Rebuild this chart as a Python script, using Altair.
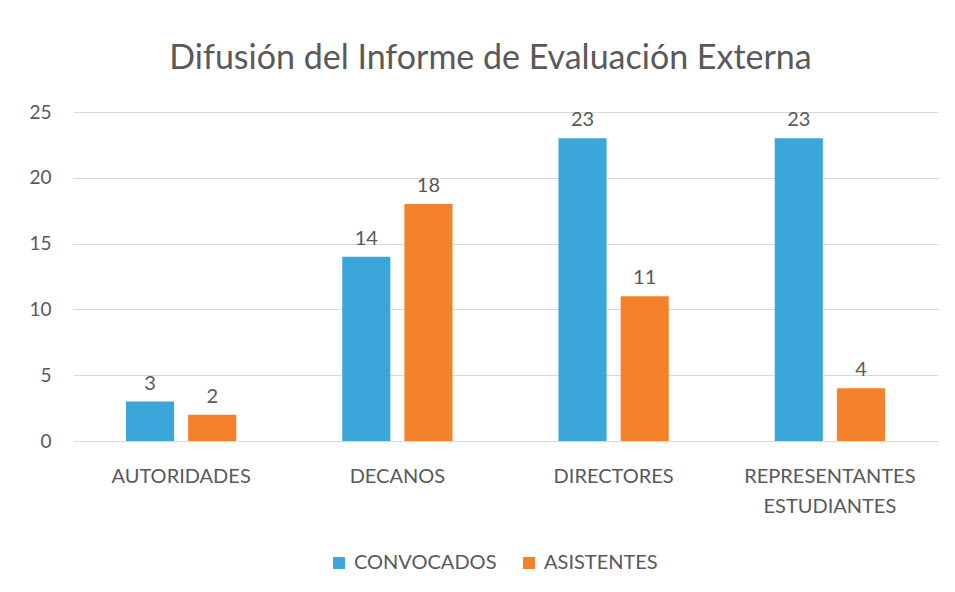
import altair as alt
import pandas as pd

categories = ["AUTORIDADES", "DECANOS", "DIRECTORES", "REPRESENTANTES ESTUDIANTES"]
series = ["CONVOCADOS", "ASISTENTES"]
convocados = [3, 14, 23, 23]
asistentes = [2, 18, 11, 4]
y_ticks = [0, 5, 10, 15, 20, 25]

rows = []
for i, c in enumerate(categories):
    rows.append({"cat": c, "serie": series[0], "valor": convocados[i]})
    rows.append({"cat": c, "serie": series[1], "valor": asistentes[i]})
df = pd.DataFrame(rows)

FONT = "Lato"
GRAY = "#595959"

x = alt.X("cat:N", sort=categories,
          scale=alt.Scale(paddingInner=0.49, paddingOuter=0.245),
          axis=alt.Axis(title=None, labelAngle=0, domain=False, ticks=False,
                        labelPadding=25, labelFontSize=20, labelColor=GRAY,
                        labelFont=FONT, labelLineHeight=30,
                        labelExpr="split(datum.label, ' ')"))
xo = alt.XOffset("serie:N", sort=series, scale=alt.Scale(paddingInner=0.226))
y = alt.Y("valor:Q", scale=alt.Scale(domain=[0, 25], nice=False),
          axis=alt.Axis(title=None, values=y_ticks, domain=False, ticks=False,
                        labelPadding=22, labelFontSize=19, labelColor=GRAY,
                        labelFont=FONT, gridColor="#D9D9D9", gridWidth=1))
color = alt.Color("serie:N", sort=series,
                  scale=alt.Scale(domain=series, range=["#3AA6DA", "#F5822A"]),
                  legend=alt.Legend(title=None, orient="none", direction="horizontal",
                                    legendX=256, legendY=441, symbolType="square",
                                    symbolSize=144, symbolStrokeWidth=0,
                                    labelFontSize=20, labelColor=GRAY, labelFont=FONT,
                                    columnPadding=22, symbolOffset=0, labelOffset=5))

base = alt.Chart(df).encode(x=x, xOffset=xo, y=y)
bars = base.mark_bar().encode(color=color)
labels = base.mark_text(dy=-18, fontSize=20, color=GRAY, font=FONT).encode(text="valor:Q")

chart = (bars + labels).properties(
    width=865, height=329,
    title=alt.TitleParams("Difusión del Informe de Evaluación Externa",
                          fontSize=34, font=FONT, fontWeight="normal", color=GRAY,
                          anchor="middle", offset=27, dx=-15),
    autosize=alt.AutoSizeParams(type="none"),
    padding={"left": 65, "top": 104, "right": 9, "bottom": 140},
    background="white",
).configure_view(stroke=None)

chart.save("out.html", embed_options={"renderer": "svg", "actions": False})
